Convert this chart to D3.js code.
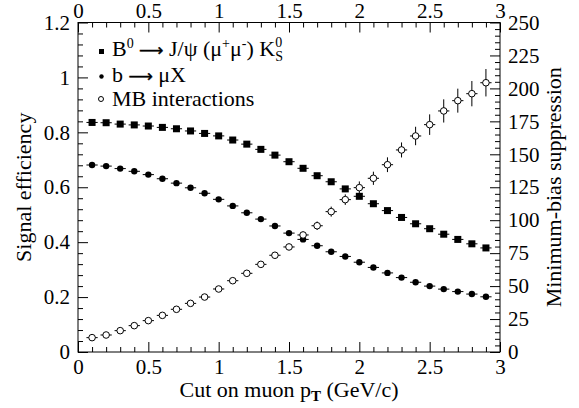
<!DOCTYPE html>
<html>
<head>
<meta charset="utf-8">
<script src="https://cdn.jsdelivr.net/npm/d3@7"></script>
</head>
<body style="margin:0">
<svg id="chart" width="579" height="408"></svg>
<script>
// Cut on muon pT (GeV/c), bin centres
const ptCut = [0.1, 0.2, 0.3, 0.4, 0.5, 0.6, 0.7, 0.8, 0.9, 1.0,
               1.1, 1.2, 1.3, 1.4, 1.5, 1.6, 1.7, 1.8, 1.9, 2.0,
               2.1, 2.2, 2.3, 2.4, 2.5, 2.6, 2.7, 2.8, 2.9];
const ptHalfWidth = 0.04;

// Signal efficiency, B0 -> J/psi(mu mu) K0S
const effB0 = [0.836, 0.835, 0.830, 0.827, 0.823, 0.818, 0.813, 0.805, 0.796, 0.787,
               0.772, 0.757, 0.738, 0.717, 0.693, 0.669, 0.642, 0.620, 0.594, 0.567,
               0.540, 0.515, 0.490, 0.467, 0.449, 0.429, 0.410, 0.394, 0.379];

// Signal efficiency, b -> mu X
const effBmu = [0.681, 0.677, 0.668, 0.658, 0.646, 0.631, 0.615, 0.598, 0.578, 0.556,
                0.532, 0.507, 0.484, 0.459, 0.433, 0.410, 0.387, 0.365, 0.348, 0.327,
                0.308, 0.288, 0.271, 0.254, 0.240, 0.229, 0.220, 0.211, 0.201];

// Minimum-bias suppression factor and its uncertainty (right axis)
const mbSupp = [10.9, 12.9, 16.2, 20.0, 23.8, 27.8, 32.4, 36.9, 41.7, 47.8,
                54.1, 59.7, 66.5, 73.4, 79.7, 88.8, 95.8, 106.5, 115.6, 124.7,
                131.8, 142.1, 153.3, 163.9, 172.5, 182.9, 190.7, 196.0, 204.3];
const mbErr = [0.4, 0.5, 0.6, 0.7, 0.8, 0.9, 1.0, 1.1, 1.3, 1.4,
               1.5, 1.7, 1.9, 2.1, 2.3, 2.5, 3.2, 3.8, 4.0, 4.7,
               5.0, 5.6, 5.7, 7.0, 7.8, 8.8, 9.1, 9.6, 10.4];

// Axis tick values
const xMajor = [0, 0.5, 1, 1.5, 2, 2.5, 3];
const xMinor = [0.1, 0.2, 0.3, 0.4, 0.6, 0.7, 0.8, 0.9, 1.1, 1.2, 1.3, 1.4,
                1.6, 1.7, 1.8, 1.9, 2.1, 2.2, 2.3, 2.4, 2.6, 2.7, 2.8, 2.9];
const yLMajor = [0, 0.2, 0.4, 0.6, 0.8, 1, 1.2];
const yLMinor = [0.04, 0.08, 0.12, 0.16, 0.24, 0.28, 0.32, 0.36, 0.44, 0.48, 0.52, 0.56,
                 0.64, 0.68, 0.72, 0.76, 0.84, 0.88, 0.92, 0.96, 1.04, 1.08, 1.12, 1.16];
const yRMajor = [0, 25, 50, 75, 100, 125, 150, 175, 200, 225, 250];
const yRMinor = [5, 10, 15, 20, 30, 35, 40, 45, 55, 60, 65, 70, 80, 85, 90, 95,
                 105, 110, 115, 120, 130, 135, 140, 145, 155, 160, 165, 170,
                 180, 185, 190, 195, 205, 210, 215, 220, 230, 235, 240, 245];

const svg = d3.select("#chart");
const L = 78, R = 500, T = 22.5, B = 352;
const FS_TICK = 21, FS = 22, FS_SMALL = 14, FS_ARROW = 17;
const SERIF = "Liberation Serif";
const ARROW = "\u27f6";

const x = d3.scaleLinear().domain([0, 3]).range([L, R]);
const yL = d3.scaleLinear().domain([0, 1.2]).range([B, T]);
const yR = d3.scaleLinear().domain([0, 250]).range([B, T]);

const fmt = d => String(d);

// text with explicit family and size
function txt(sel, size, family = SERIF) {
  return sel.attr("font-family", family).attr("font-size", size)
    .style("font-family", family).style("font-size", size + "px").attr("fill", "#000");
}

function styleAxis(g) {
  g.attr("font-family", SERIF).attr("font-size", FS_TICK);
  g.select(".domain").remove();
  g.selectAll("line").attr("stroke", "#000").attr("stroke-width", 1);
  g.selectAll("text").call(txt, FS_TICK);
}

// Bottom axis
svg.append("g").attr("transform", `translate(0,${B})`)
  .call(d3.axisBottom(x).tickValues(xMajor).tickFormat(fmt).tickSize(-10).tickSizeOuter(0).tickPadding(7))
  .call(styleAxis);
svg.append("g").attr("transform", `translate(0,${B})`)
  .call(d3.axisBottom(x).tickValues(xMinor).tickFormat("").tickSize(-5).tickSizeOuter(0))
  .call(styleAxis);

// Top axis
svg.append("g").attr("transform", `translate(0,${T})`)
  .call(d3.axisTop(x).tickValues(xMajor).tickFormat(fmt).tickSize(-10).tickSizeOuter(0).tickPadding(5))
  .call(styleAxis);
svg.append("g").attr("transform", `translate(0,${T})`)
  .call(d3.axisTop(x).tickValues(xMinor).tickFormat("").tickSize(-5).tickSizeOuter(0))
  .call(styleAxis);

// Left axis: signal efficiency
svg.append("g").attr("transform", `translate(${L},0)`)
  .call(d3.axisLeft(yL).tickValues(yLMajor).tickFormat(fmt).tickSize(-10).tickSizeOuter(0).tickPadding(8))
  .call(styleAxis);
svg.append("g").attr("transform", `translate(${L},0)`)
  .call(d3.axisLeft(yL).tickValues(yLMinor).tickFormat("").tickSize(-5).tickSizeOuter(0))
  .call(styleAxis);

// Right axis: minimum-bias suppression
svg.append("g").attr("transform", `translate(${R},0)`)
  .call(d3.axisRight(yR).tickValues(yRMajor).tickFormat(fmt).tickSize(-10).tickSizeOuter(0).tickPadding(8))
  .call(styleAxis);
svg.append("g").attr("transform", `translate(${R},0)`)
  .call(d3.axisRight(yR).tickValues(yRMinor).tickFormat("").tickSize(-5).tickSizeOuter(0))
  .call(styleAxis);

// Frame
svg.append("rect").attr("x", L).attr("y", T).attr("width", R - L).attr("height", B - T)
  .attr("fill", "none").attr("stroke", "#000").attr("stroke-width", 1);

// Series
const b0Data = ptCut.map((p, i) => ({ p, v: effB0[i] }));
const bmuData = ptCut.map((p, i) => ({ p, v: effBmu[i] }));
const mbData = ptCut.map((p, i) => ({ p, v: mbSupp[i], e: mbErr[i] }));

function hBars(data, yScale) {
  svg.append("g").selectAll("line").data(data).join("line")
    .attr("x1", d => x(d.p - ptHalfWidth)).attr("x2", d => x(d.p + ptHalfWidth))
    .attr("y1", d => yScale(d.v)).attr("y2", d => yScale(d.v))
    .attr("stroke", "#000").attr("stroke-width", 1);
}

hBars(b0Data, yL);
hBars(bmuData, yL);
hBars(mbData, yR);

// vertical uncertainties on the suppression factor
svg.append("g").selectAll("line").data(mbData).join("line")
  .attr("x1", d => x(d.p)).attr("x2", d => x(d.p))
  .attr("y1", d => yR(d.v - d.e)).attr("y2", d => yR(d.v + d.e))
  .attr("stroke", "#000").attr("stroke-width", 1);

const SQ = 7;
svg.append("g").selectAll("rect").data(b0Data).join("rect")
  .attr("x", d => x(d.p) - SQ / 2).attr("y", d => yL(d.v) - SQ / 2)
  .attr("width", SQ).attr("height", SQ).attr("fill", "#000");

svg.append("g").selectAll("circle").data(bmuData).join("circle")
  .attr("cx", d => x(d.p)).attr("cy", d => yL(d.v)).attr("r", 3.2)
  .attr("fill", "#000");

svg.append("g").selectAll("circle").data(mbData).join("circle")
  .attr("cx", d => x(d.p)).attr("cy", d => yR(d.v)).attr("r", 3.3)
  .attr("fill", "#fff").attr("stroke", "#000").attr("stroke-width", 1);

// Axis titles
const xt = svg.append("text").attr("x", (L + R) / 2).attr("y", 397)
  .attr("text-anchor", "middle").call(txt, FS);
xt.append("tspan").text("Cut on muon p");
xt.append("tspan").call(txt, 15).attr("font-weight", "bold").style("font-weight", "bold")
  .attr("dy", 4).text("T");
xt.append("tspan").call(txt, FS).attr("dy", -4).text(" (GeV/c)");

svg.append("text").attr("transform", `translate(31,${(T + B) / 2}) rotate(-90)`)
  .attr("text-anchor", "middle").call(txt, FS).text("Signal efficiency");

svg.append("text").attr("transform", `translate(561,${(T + B) / 2}) rotate(-90)`)
  .attr("text-anchor", "middle").call(txt, FS).text("Minimum-bias suppression");

// Legend
const lg = svg.append("g");
lg.append("rect").attr("x", 99).attr("y", 49).attr("width", 5).attr("height", 5).attr("fill", "#000");
lg.append("circle").attr("cx", 101.5).attr("cy", 76.5).attr("r", 2.2).attr("fill", "#000");
lg.append("circle").attr("cx", 101).attr("cy", 99).attr("r", 2.5)
  .attr("fill", "#fff").attr("stroke", "#000").attr("stroke-width", 1);

const t1 = lg.append("text").attr("x", 112).attr("y", 56).call(txt, FS);
t1.append("tspan").text("B");
t1.append("tspan").call(txt, FS_SMALL).attr("dy", -8).text("0");
t1.append("tspan").call(txt, FS_ARROW, "DejaVu Sans").attr("dy", 8).attr("stroke", "#000")
  .attr("stroke-width", 0.4).text(" " + ARROW);
t1.append("tspan").call(txt, FS).text(" J/\u03c8 (\u03bc");
t1.append("tspan").call(txt, FS_SMALL).attr("dy", -8).text("+");
t1.append("tspan").call(txt, FS).attr("dy", 8).text("\u03bc");
t1.append("tspan").call(txt, FS_SMALL).attr("dy", -8).text("-");
t1.append("tspan").call(txt, FS).attr("dy", 8).text(") K");
const sSub = t1.append("tspan").call(txt, FS_SMALL).attr("dy", 5).text("S");
const sSup = t1.append("tspan").call(txt, FS_SMALL).attr("dy", -14).text("0");
sSup.attr("dx", -sSub.node().getComputedTextLength());

const t2 = lg.append("text").attr("x", 112).attr("y", 81.5).call(txt, FS);
t2.append("tspan").text("b");
t2.append("tspan").call(txt, FS_ARROW, "DejaVu Sans").attr("stroke", "#000")
  .attr("stroke-width", 0.4).text(" " + ARROW);
t2.append("tspan").call(txt, FS).text(" \u03bcX");

lg.append("text").attr("x", 112).attr("y", 106).call(txt, FS).text("MB interactions");
</script>
</body>
</html>
